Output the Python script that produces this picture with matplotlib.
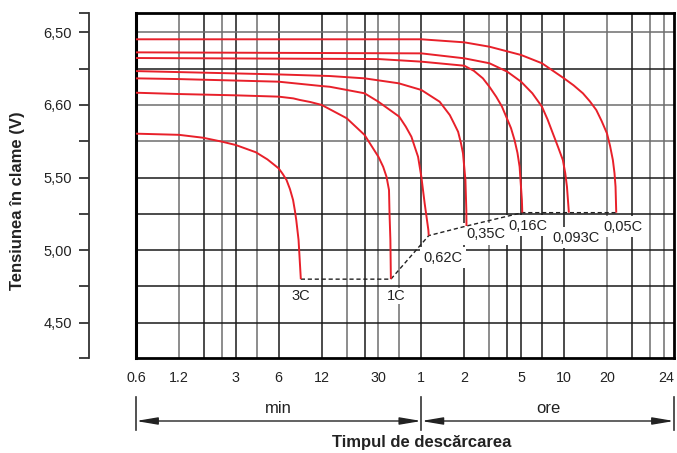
import matplotlib
matplotlib.use('Agg')
import matplotlib.pyplot as plt
from matplotlib.ticker import NullLocator

plt.rcParams['font.family'] = ['Liberation Sans', 'DejaVu Sans']

# ---------------- data (time in minutes, voltage in V) ----------------
rates = ['3C', '1C', '0,62C', '0,35C', '0,16C', '0,093C', '0,05C']

t_3c = [0.6, 1.2, 1.77, 2.4, 3.0, 4.15, 5.0, 6.0, 6.4, 6.81, 7.2, 7.57, 7.8, 7.97, 8.27, 8.58]
v_3c = [5.802, 5.794, 5.774, 5.747, 5.724, 5.674, 5.625, 5.563, 5.525, 5.483, 5.42, 5.345,
        5.27, 5.207, 5.07, 4.80]

t_1c = [0.6, 1.2, 3.0, 6.0, 7.6, 8.45, 10, 12, 13.7, 18, 24, 30, 32.4, 34.2, 35.6, 35.9,
        36.4, 36.7]
v_1c = [6.084, 6.075, 6.066, 6.057, 6.045, 6.034, 6.02, 6.0, 5.970, 5.908, 5.793, 5.643,
        5.574, 5.505, 5.414, 5.253, 5.07, 4.80]

t_062c = [0.6, 1.2, 6.0, 12, 13.7, 24, 30, 42, 46.7, 51.1, 53.9, 56.9, 60, 63.3, 67.2, 67.6]
v_062c = [6.183, 6.178, 6.16, 6.13, 6.125, 6.08, 6.022, 5.919, 5.85, 5.781, 5.712, 5.643,
          5.505, 5.322, 5.138, 5.10]

t_035c = [0.6, 6, 13.7, 24, 41.6, 60, 80.6, 87.4, 95, 101.6, 108.6, 113.5, 117.5, 122.2,
          124, 124.3]
v_035c = [6.233, 6.21, 6.199, 6.183, 6.149, 6.103, 6.022, 5.977, 5.930, 5.873, 5.815, 5.74,
          5.667, 5.483, 5.276, 5.166]

t_016c = [0.6, 30, 60, 120, 140, 162, 180, 201, 220, 236, 255, 270, 283, 293, 304, 306]
v_016c = [6.323, 6.316, 6.298, 6.27, 6.235, 6.183, 6.125, 6.056, 5.99, 5.919, 5.84, 5.758,
          5.67, 5.574, 5.345, 5.258]

t_0093c = [0.6, 60, 120, 180, 240, 300, 360, 420, 460, 501, 545, 589, 612, 629, 649]
v_0093c = [6.362, 6.355, 6.321, 6.287, 6.229, 6.16, 6.08, 5.988, 5.9, 5.804, 5.71, 5.62,
           5.53, 5.437, 5.258]

t_005c = [0.6, 60, 120, 180, 300, 420, 600, 700, 814, 910, 1010, 1100, 1200, 1260, 1320,
          1355, 1378, 1394]
v_005c = [6.452, 6.452, 6.431, 6.401, 6.344, 6.287, 6.183, 6.135, 6.08, 6.025, 5.965, 5.89,
          5.804, 5.72, 5.62, 5.53, 5.437, 5.258]

x_tick_pos = [0.6, 1.2, 3, 6, 12, 30, 60, 120, 300, 600, 1200, 3100]
x_tick_labels = ['0.6', '1.2', '3', '6', '12', '30', '1', '2', '5', '10', '20', '24']
y_tick_pos = [4.5, 5.0, 5.5, 6.0, 6.5]
y_tick_labels = ['4,50', '5,00', '5,50', '6,60', '6,50']

grid_x = [1.2, 1.8, 2.4, 3, 4.2, 6, 12, 18, 24, 30, 42, 60, 120, 180, 240, 300,
          420, 600, 1200, 1800, 2400, 3000]
grid_x_dark = [0, 1, 0, 1, 0, 1, 1, 0, 1, 0, 0, 1, 1, 0, 1, 1, 1, 1, 0, 1, 0, 0]
grid_y = [4.5, 4.75, 5.0, 5.25, 5.5, 5.75, 6.0, 6.25, 6.5]
grid_y_dark = [1, 1, 1, 1, 1, 0, 0, 1, 0]

curves = [(t_3c, v_3c), (t_1c, v_1c), (t_062c, v_062c), (t_035c, v_035c),
          (t_016c, v_016c), (t_0093c, v_0093c), (t_005c, v_005c)]
label_offsets = [(0, -17), (5, -17), (14, -22), (19, -8), (6, -13), (7, -25), (7, -14)]
label_pads = [0.05, 0.05, 0.25, 0.25, 0.25, 0.25, 0.25]

# ---------------- figure ----------------
W, H = 677, 453
fig = plt.figure(figsize=(W / 100, H / 100), dpi=100)
L, R, T, B = 136, 674, 13.3, 358
ax = fig.add_axes([L / W, 1 - B / H, (R - L) / W, (B - T) / H])
ax.set_xscale('log')
ax.set_xlim(0.6, 3540)
ax.set_ylim(4.257, 6.631)

DARK, GREY = '#1a1a1a', '#6e6e6e'
for gx, d in zip(grid_x, grid_x_dark):
    ax.axvline(gx, color=DARK if d else GREY, lw=1.1, zorder=1)
for gy, d in zip(grid_y, grid_y_dark):
    ax.axhline(gy, color=DARK if d else GREY, lw=1.1, zorder=1)
ax.axvline(0.6, color='black', lw=2.2, zorder=1.5, clip_on=False)

RED = '#e8202a'
for t, v in curves:
    ax.plot(t, v, color=RED, lw=1.4, zorder=4, solid_joinstyle='round',
            solid_capstyle='butt')

end_t = [c[0][-1] for c in curves]
end_v = [c[1][-1] for c in curves]
ax.plot(end_t, end_v, color='#222222', lw=1.0, ls=(0, (3, 2)), zorder=3)

for name, (t, v), off, pd in zip(rates, curves, label_offsets, label_pads):
    ax.annotate(name, xy=(t[-1], v[-1]), xytext=off, textcoords='offset pixels',
                ha='center', va='center', fontsize=10.5, color='#222222',
                bbox=dict(boxstyle='square,pad=%g' % pd, fc='white', ec='none'),
                zorder=2.5)

# axes styling
for s in ['top', 'right', 'bottom']:
    ax.spines[s].set_linewidth(2.0)
    ax.spines[s].set_color('black')
ax.spines['left'].set_position(('outward', 34))
ax.spines['left'].set_linewidth(1.3)
ax.spines['left'].set_color('#333333')

ax.set_xticks(x_tick_pos)
ax.set_xticklabels(x_tick_labels)
ax.xaxis.set_minor_locator(NullLocator())
ax.tick_params(axis='x', which='both', length=0, pad=9, labelsize=10.3, labelcolor='#222222')

ax.set_yticks(y_tick_pos)
ax.set_yticklabels(y_tick_labels)
ax.set_yticks([4.257, 4.75, 5.25, 5.75, 6.25, 6.631], minor=True)
ax.tick_params(axis='y', which='both', length=7, width=1.3, color='#333333',
               direction='out', pad=5, labelsize=10.5, labelcolor='#222222')

# bottom annotations (min / ore)
trans = ax.get_xaxis_transform()
axh = B - T
def fy(py):
    return (B - py) / axh
ya = fy(421)
for xb in [0.6, 60, 3540]:
    ax.plot([xb, xb], [fy(396.7), fy(430)], transform=trans, clip_on=False,
            color='#333333', lw=1.2)
arrow = dict(arrowstyle='<|-|>,head_length=1.3,head_width=0.22', mutation_scale=10,
             lw=1.0, color='#222222', shrinkA=0, shrinkB=0)
ax.annotate('', xy=(0.6, ya), xytext=(60, ya), xycoords=trans, textcoords=trans,
            arrowprops=arrow, annotation_clip=False)
ax.annotate('', xy=(60, ya), xytext=(3540, ya), xycoords=trans, textcoords=trans,
            arrowprops=arrow, annotation_clip=False)
ax.text(6, fy(408.5), 'min', transform=trans, ha='center', va='center',
        fontsize=12, color='#222222')
ax.text(465, fy(408.5), 'ore', transform=trans, ha='center', va='center',
        fontsize=12, color='#222222')

fig.text(422 / W, 1 - 443 / H, 'Timpul de descărcarea', ha='center', va='center',
         fontsize=12, fontweight='bold', color='#222222')
fig.text(17.5 / W, 1 - 201 / H, 'Tensiunea în clame (V)', ha='center', va='center',
         rotation=90, fontsize=12, fontweight='bold', color='#222222')

fig.savefig('out.png', dpi=100)
